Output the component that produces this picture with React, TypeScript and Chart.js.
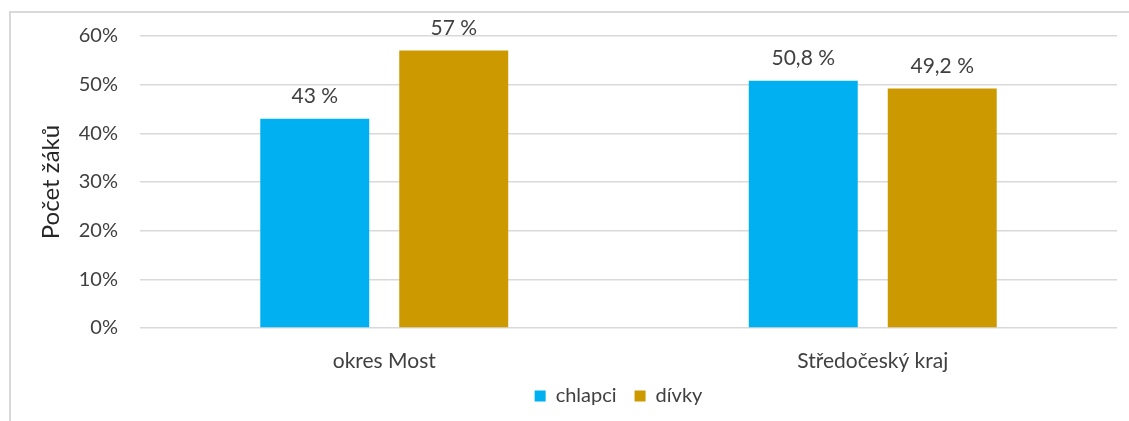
import React, { useEffect, useRef } from "react";
import { Chart, registerables } from "chart.js";

Chart.register(...registerables);

const categories = ["okres Most", "Středočeský kraj"];
const boysValues = [43, 50.8];
const girlsValues = [57, 49.2];
const boysLabels = ["43 %", "50,8 %"];
const girlsLabels = ["57 %", "49,2 %"];
const seriesNames = ["chlapci", "dívky"];
const yTicks = [0, 10, 20, 30, 40, 50, 60];

const FONT = "Lato, 'Open Sans', sans-serif";
const TEXT = "#404040";

const valueLabels = {
  id: "valueLabels",
  afterDatasetsDraw(chart: any) {
    const ctx = chart.ctx;
    ctx.save();
    ctx.font = `21px ${FONT}`;
    ctx.fillStyle = TEXT;
    ctx.textAlign = "center";
    ctx.textBaseline = "alphabetic";
    chart.data.datasets.forEach((ds: any, i: number) => {
      const meta = chart.getDatasetMeta(i);
      meta.data.forEach((el: any, j: number) => {
        ctx.fillText(ds.labelsText[j], el.x, el.y - 16);
      });
    });
    ctx.restore();
  },
};

const legendShift = {
  id: "legendShift",
  afterLayout(chart: any) {
    const lg = chart.legend;
    if (!lg) return;
    const area = chart.chartArea;
    const center = (area.left + area.right) / 2;
    const cur = (lg.left + lg.right) / 2;
    const d = center - cur - 10;
    lg.left += d;
    lg.right += d;
    lg.top -= 4;
    lg.bottom -= 4;
    if (lg.legendHitBoxes)
      lg.legendHitBoxes.forEach((h: any) => {
        h.left += d;
        h.top -= 4;
      });
  },
};

export default function App() {
  const ref = useRef<HTMLCanvasElement | null>(null);
  useEffect(() => {
    if (!ref.current) return;
    const chart = new Chart(ref.current, {
      type: "bar",
      data: {
        labels: categories,
        datasets: [
          {
            label: seriesNames[0],
            data: boysValues,
            backgroundColor: "#00B0F0",
            labelsText: boysLabels,
          } as any,
          {
            label: seriesNames[1],
            data: girlsValues,
            backgroundColor: "#CC9900",
            labelsText: girlsLabels,
          } as any,
        ],
      },
      options: {
        animation: false,
        responsive: false,
        maintainAspectRatio: false,
        layout: { padding: { top: 23, right: 15, bottom: 12, left: 0 } },
        datasets: {
          bar: { categoryPercentage: 0.569, barPercentage: 0.784 },
        },
        plugins: {
          tooltip: { enabled: false },
          legend: {
            position: "bottom",
            labels: {
              boxWidth: 11,
              boxHeight: 11,
              padding: 18,
              color: TEXT,
              font: { family: FONT, size: 20 },
            },
          },
        },
        scales: {
          x: {
            grid: { display: false, drawTicks: false },
            border: { display: false },
            ticks: {
              color: TEXT,
              padding: 21,
              font: { family: FONT, size: 21 },
            },
            afterFit(scale: any) {
              scale.height = 44;
            },
          },
          y: {
            min: 0,
            max: 60,
            afterBuildTicks(scale: any) {
              scale.ticks = yTicks.map((v) => ({ value: v }));
            },
            grid: { color: "#d9d9d9", lineWidth: 1.6, drawTicks: false },
            border: { display: false },
            ticks: {
              color: TEXT,
              padding: 22,
              font: { family: FONT, size: 20 },
              callback: (v: any) => `${v}%`,
            },
            title: {
              display: true,
              text: "Počet žáků",
              color: "#262626",
              padding: { top: 26, bottom: 0 },
              font: { family: FONT, size: 24 },
            },
            afterFit(scale: any) {
              scale.width = 129;
              scale.paddingTop = 0;
              scale.paddingBottom = 0;
            },
          },
        },
      } as any,
      plugins: [valueLabels, legendShift],
    });
    return () => chart.destroy();
  }, []);

  return (
    <div
      style={{
        position: "absolute",
        left: 9,
        top: 11,
        width: 1130,
        height: 440,
        border: "2px solid #d9d9d9",
        boxSizing: "border-box",
        background: "#fff",
      }}
    >
      <canvas ref={ref} width={1121} height={419} style={{ display: "block" }} />
    </div>
  );
}
